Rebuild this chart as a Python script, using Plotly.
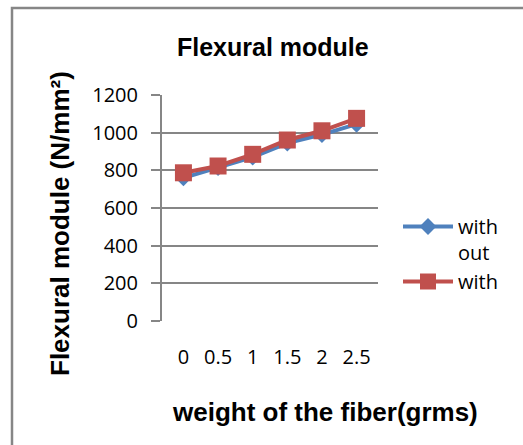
import plotly.graph_objects as go

categories = ["0", "0.5", "1", "1.5", "2", "2.5"]
without_vals = [760, 815, 870, 945, 990, 1045]
with_vals = [787, 823, 885, 961, 1010, 1076]
series_names = ["with<br>out", "with"]
y_ticks = [0, 200, 400, 600, 800, 1000, 1200]

W, H = 523, 445
L, R, T, B = 162, 145, 95, 124
pw, ph = W - L - R, H - T - B

def px_x(x):
    return (x - L) / pw

def px_y(y):
    return (H - B - y) / ph

FONT = "Open Sans, Liberation Sans, Arial, sans-serif"
BFONT = "Liberation Sans, Arial, sans-serif"

fig = go.Figure()
fig.add_trace(go.Scatter(
    x=categories, y=without_vals, name=series_names[0], mode="lines+markers",
    line=dict(color="#4F81BD", width=4),
    marker=dict(symbol="diamond", size=13, color="#4F81BD"),
))
fig.add_trace(go.Scatter(
    x=categories, y=with_vals, name=series_names[1], mode="lines+markers",
    line=dict(color="#C0504D", width=4),
    marker=dict(symbol="square", size=17, color="#C0504D"),
))

def ann(text, x, y, size, angle=0):
    return dict(text=text, x=px_x(x), y=px_y(y), xref="paper", yref="paper",
                xanchor="center", yanchor="middle", showarrow=False,
                textangle=angle, font=dict(size=size, family=BFONT, color="black"))

fig.update_layout(
    width=W, height=H,
    margin=dict(l=L, r=R, t=T, b=B),
    paper_bgcolor="white", plot_bgcolor="white",
    font=dict(family=FONT, size=20, color="black"),
    showlegend=True,
    legend=dict(x=px_x(398), y=px_y(207), xanchor="left", yanchor="top",
                valign="top", font=dict(size=20, family=FONT),
                itemwidth=50, tracegroupgap=0, bgcolor="rgba(0,0,0,0)"),
    xaxis=dict(type="category", showgrid=False, showline=False, ticks="",
               ticklabelstandoff=22, tickfont=dict(size=20), zeroline=False,
               fixedrange=True),
    yaxis=dict(range=[0, 1200], tickvals=y_ticks, showgrid=True,
               gridcolor="#868686", gridwidth=1.5, showline=True,
               linecolor="#868686", linewidth=2, ticks="outside", ticklen=9,
               tickcolor="#868686", tickwidth=1.5, ticklabelstandoff=9,
               zeroline=False, tickfont=dict(size=20)),
    annotations=[
        ann("<b>Flexural module</b>", 273, 47, 25),
        ann("<b>Flexural module (N/mm²)</b>", 60, 224, 26, -90),
        ann("<b>weight of the fiber(grms)</b>", 325, 412, 26),
    ],
    shapes=[
        dict(type="rect", xref="paper", yref="paper",
             x0=px_x(12), y0=px_y(8), x1=px_x(560), y1=px_y(480),
             line=dict(color="#868686", width=2.5), layer="below"),
    ],
)

fig.write_html("out.html")
